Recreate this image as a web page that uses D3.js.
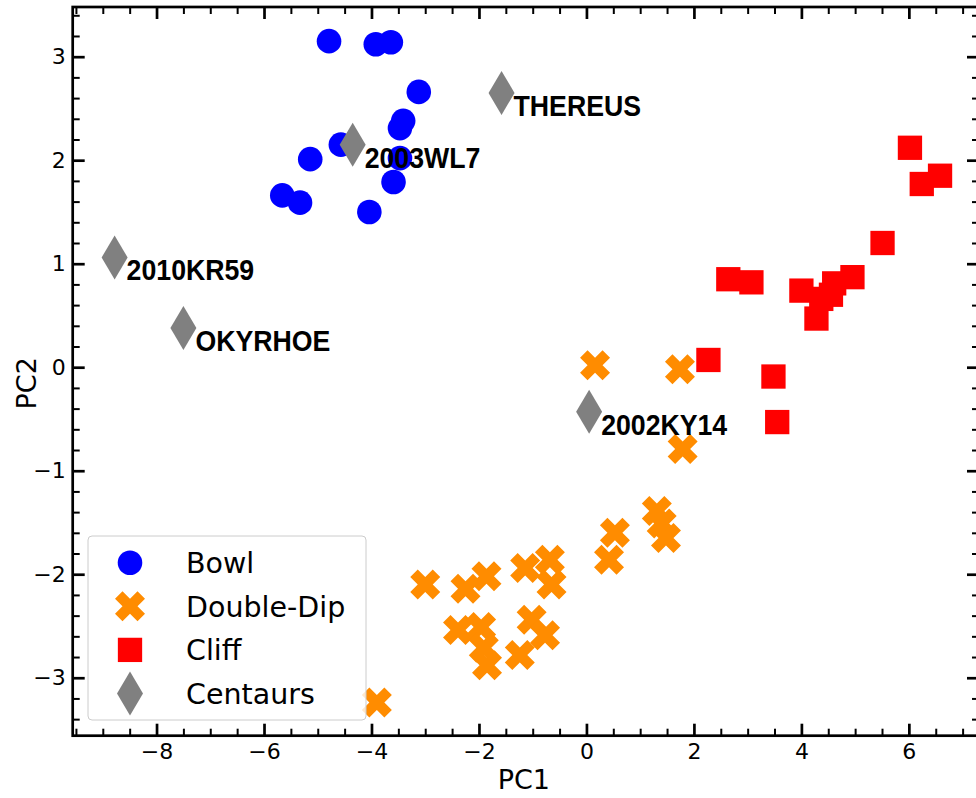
<!DOCTYPE html>
<html>
<head>
<meta charset="utf-8">
<script src="https://cdn.jsdelivr.net/npm/d3@7"></script>
<style>
  body { margin: 0; background: white; }
</style>
</head>
<body>
<script>
// PCA scatter: Bowl / Double-Dip / Cliff groups plus labelled centaurs

const bowlX = [-4.79, -3.92, -3.64, -3.12, -3.41, -3.47, -4.57, -5.14, -3.47, -3.59, -5.66, -5.33, -4.04];
const bowlY = [3.15, 3.12, 3.14, 2.66, 2.38, 2.31, 2.15, 2.01, 2.02, 1.79, 1.66, 1.59, 1.50];

const dipX = [0.16, 1.74, 1.79, 1.31, 1.40, 1.48, 0.53, 0.42, -3.00, -2.25, -1.86, -1.14, -0.68, -0.65, -2.39, -1.96, -1.91, -1.85, -1.02, -0.77, -1.24, -3.90];
const dipY = [0.02, -0.02, -0.79, -1.39, -1.51, -1.65, -1.60, -1.86, -2.10, -2.14, -2.02, -1.94, -1.86, -2.10, -2.54, -2.51, -2.71, -2.88, -2.44, -2.59, -2.78, -3.24];

const cliffX = [6.02, 6.24, 6.58, 5.51, 2.64, 3.07, 4.00, 4.37, 4.55, 4.61, 4.95, 4.28, 2.27, 3.48, 3.55];
const cliffY = [2.12, 1.77, 1.85, 1.20, 0.85, 0.82, 0.74, 0.66, 0.70, 0.81, 0.87, 0.47, 0.07, -0.09, -0.53];

const centaurNames = ["2003WL7", "THEREUS", "2010KR59", "OKYRHOE", "2002KY14"];
const centaurX = [-4.35, -1.58, -8.78, -7.50, 0.05];
const centaurY = [2.15, 2.65, 1.06, 0.38, -0.43];

const legendLabels = ["Bowl", "Double-Dip", "Cliff", "Centaurs"];
const xTicks = [-8, -6, -4, -2, 0, 2, 4, 6];
const yTicks = [-3, -2, -1, 0, 1, 2, 3];

const W = 976, H = 798;
const mLeft = 72.7, mRight = 979, mTop = 7, mBottom = 735.7;

const svg = d3.select("body").append("svg")
  .attr("width", W)
  .attr("height", H)
  .style("background-color", "white");

const x = d3.scaleLinear().domain([-9.56, 7.305]).range([mLeft, mRight]);
const y = d3.scaleLinear().domain([-3.56, 3.48]).range([mBottom, mTop]);

// marker shapes (pixels)
const xPath = (() => {
  const s = 30;
  const pts = [[-0.25,-0.5],[0,-0.25],[0.25,-0.5],[0.5,-0.25],[0.25,0],[0.5,0.25],
               [0.25,0.5],[0,0.25],[-0.25,0.5],[-0.5,0.25],[-0.25,0],[-0.5,-0.25]];
  return "M" + pts.map(p => (p[0]*s) + "," + (p[1]*s)).join("L") + "Z";
})();
const diamondPath = "M0,-22L13,0L0,22L-13,0Z";
const sq = 24.3;

function drawCircle(g, cx, cy) {
  g.append("circle").attr("cx", cx).attr("cy", cy).attr("r", 12.3).attr("fill", "#0000ff");
}
function drawX(g, cx, cy) {
  g.append("path").attr("d", xPath).attr("transform", `translate(${cx},${cy})`).attr("fill", "#ff8c00");
}
function drawSquare(g, cx, cy) {
  g.append("rect").attr("x", cx - sq/2).attr("y", cy - sq/2).attr("width", sq).attr("height", sq).attr("fill", "#ff0000");
}
function drawDiamond(g, cx, cy) {
  g.append("path").attr("d", diamondPath).attr("transform", `translate(${cx},${cy})`).attr("fill", "#808080");
}

const plot = svg.append("g");

bowlX.forEach((v, i) => drawCircle(plot, x(v), y(bowlY[i])));
dipX.forEach((v, i) => drawX(plot, x(v), y(dipY[i])));
cliffX.forEach((v, i) => drawSquare(plot, x(v), y(cliffY[i])));
centaurX.forEach((v, i) => drawDiamond(plot, x(v), y(centaurY[i])));

// centaur names
centaurNames.forEach((name, i) => {
  plot.append("text")
    .attr("transform", `translate(${x(centaurX[i]) + 12},${y(centaurY[i]) + 23}) scale(0.89,1)`)
    .attr("font-family", "'Liberation Sans', Arial, sans-serif")
    .attr("font-weight", "bold")
    .attr("font-size", "30px")
    .attr("fill", "black")
    .text(name);
});

// axes, inward ticks on all four sides
const tickFont = "'DejaVu Sans', sans-serif";
const fmt = d3.format("d");
const xMinor = d3.range(-9.5, 7.01, 0.5).filter(v => Math.abs(v / 2 - Math.round(v / 2)) > 1e-6);
const yMinor = d3.range(-3.4, 3.41, 0.2).map(v => +v.toFixed(1)).filter(v => Math.abs(v - Math.round(v)) > 1e-6);

function styleAxis(g, major) {
  g.select(".domain").remove();
  g.selectAll(".tick line").attr("stroke", "black").attr("stroke-width", major ? 2.7 : 2);
  g.selectAll(".tick text").attr("font-family", tickFont).attr("font-size", "22px").attr("fill", "black");
}

const gxb = svg.append("g").attr("transform", `translate(0,${mBottom})`)
  .call(d3.axisBottom(x).tickValues(xTicks).tickFormat(fmt).tickSize(-12).tickPadding(8));
styleAxis(gxb, true);
styleAxis(svg.append("g").attr("transform", `translate(0,${mBottom})`)
  .call(d3.axisBottom(x).tickValues(xMinor).tickSize(-7).tickFormat("")), false);

styleAxis(svg.append("g").attr("transform", `translate(0,${mTop})`)
  .call(d3.axisTop(x).tickValues(xTicks).tickSize(-12).tickFormat("")), true);
styleAxis(svg.append("g").attr("transform", `translate(0,${mTop})`)
  .call(d3.axisTop(x).tickValues(xMinor).tickSize(-7).tickFormat("")), false);

const gyl = svg.append("g").attr("transform", `translate(${mLeft},0)`)
  .call(d3.axisLeft(y).tickValues(yTicks).tickFormat(fmt).tickSize(-12).tickPadding(7));
styleAxis(gyl, true);
styleAxis(svg.append("g").attr("transform", `translate(${mLeft},0)`)
  .call(d3.axisLeft(y).tickValues(yMinor).tickSize(-7).tickFormat("")), false);

styleAxis(svg.append("g").attr("transform", `translate(${mRight},0)`)
  .call(d3.axisRight(y).tickValues(yTicks).tickSize(-12).tickFormat("")), true);
styleAxis(svg.append("g").attr("transform", `translate(${mRight},0)`)
  .call(d3.axisRight(y).tickValues(yMinor).tickSize(-7).tickFormat("")), false);

// frame
svg.append("rect")
  .attr("x", mLeft).attr("y", mTop)
  .attr("width", mRight - mLeft).attr("height", mBottom - mTop)
  .attr("fill", "none").attr("stroke", "black").attr("stroke-width", 2.7);

// axis titles
svg.append("text")
  .attr("x", (mLeft + mRight) / 2 - 2)
  .attr("y", 789)
  .attr("text-anchor", "middle")
  .attr("font-family", tickFont)
  .attr("font-size", "27px")
  .attr("fill", "black")
  .text("PC1");

svg.append("text")
  .attr("transform", `translate(36,${(mTop + mBottom) / 2 + 12}) rotate(-90)`)
  .attr("text-anchor", "middle")
  .attr("font-family", tickFont)
  .attr("font-size", "27px")
  .attr("fill", "black")
  .text("PC2");

// legend
const legend = svg.append("g");
legend.append("rect")
  .attr("x", 88).attr("y", 536)
  .attr("width", 278).attr("height", 184)
  .attr("rx", 4)
  .attr("fill", "white").attr("fill-opacity", 0.8)
  .attr("stroke", "#cccccc").attr("stroke-width", 1);

const legendDraw = [drawCircle, drawX, drawSquare, drawDiamond];
legendLabels.forEach((lab, i) => {
  const ly = 562.7 + i * 43.6;
  legendDraw[i](legend, 130, ly);
  legend.append("text")
    .attr("x", 186)
    .attr("y", ly)
    .attr("dy", "0.36em")
    .attr("font-family", tickFont)
    .attr("font-size", "28.5px")
    .attr("fill", "black")
    .text(lab);
});
</script>
</body>
</html>
